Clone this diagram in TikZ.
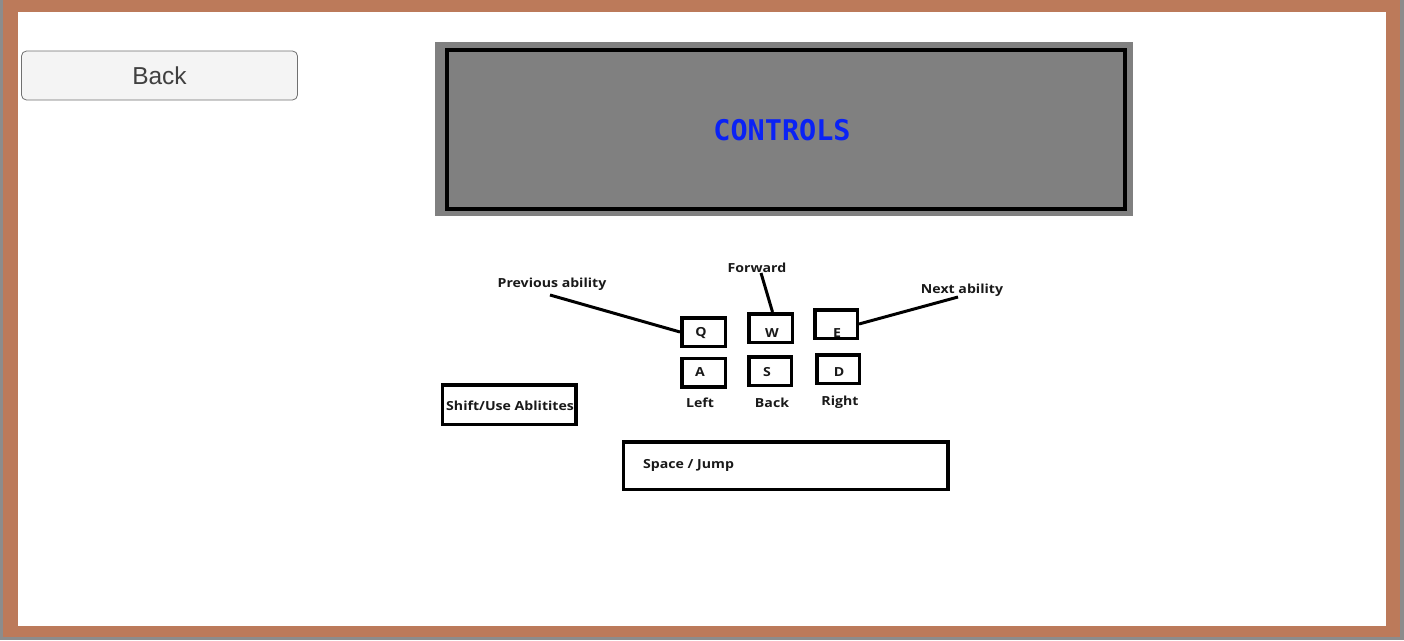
\documentclass[tikz,border=0pt]{standalone}
\usepackage{fontspec}
\setmainfont[FakeStretch=1.13]{Open Sans}
\newfontfamily\arialfont{Liberation Sans}
\newfontfamily\blockfont{DejaVu Sans Mono}
\definecolor{framebrown}{RGB}{188,122,90}
\definecolor{frameedge}{RGB}{140,140,140}
\definecolor{panelgray}{RGB}{128,128,128}
\definecolor{btnfill}{RGB}{244,244,244}
\definecolor{btnedge}{RGB}{112,112,112}
\definecolor{btntext}{RGB}{64,64,64}
\definecolor{ctrlblue}{RGB}{10,34,245}
\tikzset{
  keybox/.style={draw=black, line width=3.5pt, rectangle, inner sep=0pt, fill=white},
  lbl/.style={font=\fontsize{12.5}{14}\selectfont\bfseries, inner sep=0pt, text=black!90, yshift=-1.5pt},
  lead/.style={line width=3pt, black},
}
\begin{document}
\begin{tikzpicture}[x=1pt,y=-1pt]
\useasboundingbox (0,0) rectangle (1404,640);
% frame
\fill[frameedge] (0,0) rectangle (1404,640);
\fill[framebrown] (3,0) rectangle (1400,637);
\fill[white] (18,12) rectangle (1386,626);
% back button
\node[draw=btnedge, fill=btnfill, rounded corners=5pt, line width=0.8pt,
      minimum width=276pt, minimum height=49pt, inner sep=0pt,
      font=\arialfont\fontsize{24.5}{28}\selectfont, text=btntext] (back) at (159.5,75.5) {Back};
% controls panel
\node[fill=panelgray, minimum width=698pt, minimum height=174pt, inner sep=0pt] (panelbg) at (784,129) {};
\node[draw=black, line width=4.5pt, minimum width=678pt, minimum height=159pt, inner sep=0pt] (panel) at (786,129.5) {};
\node[font=\blockfont\bfseries\fontsize{28.5}{32}\selectfont, text=ctrlblue, inner sep=0pt] (title) at (782,130.5) {CONTROLS};
% keys
\node[keybox, minimum width=43.5pt, minimum height=28.5pt] (q) at (703.5,332) {};
\node[keybox, minimum width=43.5pt, minimum height=28.5pt] (w) at (770.5,328) {};
\node[keybox, minimum width=42.5pt, minimum height=28.5pt] (e) at (836,324) {};
\node[keybox, minimum width=43.5pt, minimum height=28.5pt] (a) at (703.5,372.5) {};
\node[keybox, minimum width=42.5pt, minimum height=28.5pt] (s) at (770,371) {};
\node[keybox, minimum width=42.5pt, minimum height=28.5pt] (d) at (838,369) {};
\node[lbl] (qt) at (701,332) {Q};
\node[lbl] (wt) at (772,332) {W};
\node[lbl] (et) at (837,332) {E};
\node[lbl] (at) at (700,371) {A};
\node[lbl] (st) at (767,371) {S};
\node[lbl] (dt) at (839,371) {D};
% labels under keys
\node[lbl] (left) at (700,401) {Left};
\node[lbl] (backl) at (772,401) {Back};
\node[lbl] (right) at (840,401) {Right};
% labels above
\node[lbl] (prev) at (552,283) {Previous ability};
\node[lbl] (fwd) at (757,266) {Forward};
\node[lbl] (next) at (962,289) {Next ability};
\coordinate (prevend) at (550,295);
\coordinate (fwdend) at (761,273);
\coordinate (nextend) at (958,297);
\draw[lead] (prevend) -- (q.west);
\draw[lead] (fwdend) -- ([xshift=2pt]w.north);
\draw[lead] (e.east) -- (nextend);
% shift box
\node[keybox, minimum width=133.5pt, minimum height=39.5pt] (shift) at (509,404.5) {};
\node[lbl, anchor=west] (shiftt) at (446,404) {Shift/Use Ablitites};
% space box
\node[keybox, minimum width=324.5pt, minimum height=47.5pt] (space) at (785.5,465.5) {};
\node[lbl, anchor=west] (spacet) at (643,464) {Space / Jump};
\end{tikzpicture}
\end{document}
